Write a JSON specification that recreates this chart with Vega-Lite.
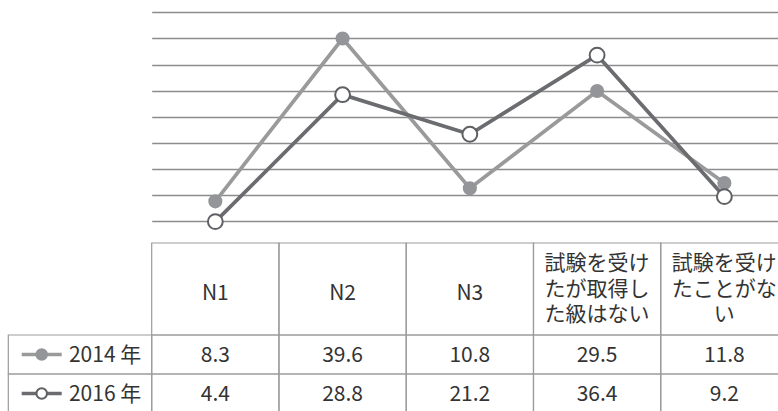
{
  "$schema": "https://vega.github.io/schema/vega-lite/v6.json",
  "width": 778,
  "height": 411,
  "padding": 0,
  "autosize": {"type": "none"},
  "background": "white",
  "config": {"view": {"stroke": null}, "font": "Noto Sans CJK JP", "text": {"font": "Noto Sans CJK JP"}},
  "datasets": {
    "vals": [
      {"cat": "N1", "year": "2014 年", "value": 8.3},
      {"cat": "N2", "year": "2014 年", "value": 39.6},
      {"cat": "N3", "year": "2014 年", "value": 10.8},
      {"cat": "試験を受け\nたが取得し\nた級はない", "year": "2014 年", "value": 29.5},
      {"cat": "試験を受け\nたことがな\nい", "year": "2014 年", "value": 11.8},
      {"cat": "N1", "year": "2016 年", "value": 4.4},
      {"cat": "N2", "year": "2016 年", "value": 28.8},
      {"cat": "N3", "year": "2016 年", "value": 21.2},
      {"cat": "試験を受け\nたが取得し\nた級はない", "year": "2016 年", "value": 36.4},
      {"cat": "試験を受け\nたことがな\nい", "year": "2016 年", "value": 9.2}
    ]
  },
  "data": {"name": "vals"},
  "resolve": {"scale": {"x": "independent", "y": "independent", "fill": "independent", "stroke": "independent"}},
  "layer": [
    {
      "transform": [{"filter": "datum.year === '2014 年'"}],
      "mark": {"type": "line", "color": "#9a9a9c", "strokeWidth": 3.7},
      "encoding": {
        "x": {"field": "cat", "type": "nominal", "axis": null,
              "scale": {"type": "band", "domain": ["N1", "N2", "N3", "試験を受け\nたが取得し\nた級はない", "試験を受け\nたことがな\nい"], "range": [151.7, 788], "paddingInner": 0, "paddingOuter": 0}},
        "y": {"field": "value", "type": "quantitative",
              "scale": {"type": "linear", "domain": [0, 47], "range": [244.5, 0], "nice": false, "zero": false},
              "axis": {"orient": "left", "values": [4.6, 9.6, 14.6, 19.6, 24.6, 29.6, 34.6, 39.6, 44.6], "grid": true, "gridColor": "#8c8c8c", "gridWidth": 1.4, "labels": false, "ticks": false, "domain": false, "title": null}}
      }
    },
    {
      "transform": [{"filter": "datum.year === '2014 年'"}],
      "mark": {"type": "circle", "color": "#939598", "size": 200, "opacity": 1},
      "encoding": {
        "x": {"field": "cat", "type": "nominal", "axis": null,
              "scale": {"type": "band", "domain": ["N1", "N2", "N3", "試験を受け\nたが取得し\nた級はない", "試験を受け\nたことがな\nい"], "range": [151.7, 788], "paddingInner": 0, "paddingOuter": 0}},
        "y": {"field": "value", "type": "quantitative", "axis": null,
              "scale": {"type": "linear", "domain": [0, 47], "range": [244.5, 0], "nice": false, "zero": false}}
      }
    },
    {
      "transform": [{"filter": "datum.year === '2016 年'"}],
      "mark": {"type": "line", "color": "#6b6c6f", "strokeWidth": 3.7},
      "encoding": {
        "x": {"field": "cat", "type": "nominal", "axis": null,
              "scale": {"type": "band", "domain": ["N1", "N2", "N3", "試験を受け\nたが取得し\nた級はない", "試験を受け\nたことがな\nい"], "range": [151.7, 788], "paddingInner": 0, "paddingOuter": 0}},
        "y": {"field": "value", "type": "quantitative", "axis": null,
              "scale": {"type": "linear", "domain": [0, 47], "range": [244.5, 0], "nice": false, "zero": false}}
      }
    },
    {
      "transform": [{"filter": "datum.year === '2016 年'"}],
      "mark": {"type": "circle", "fill": "#ffffff", "stroke": "#5f6063", "strokeWidth": 2, "size": 220, "opacity": 1},
      "encoding": {
        "x": {"field": "cat", "type": "nominal", "axis": null,
              "scale": {"type": "band", "domain": ["N1", "N2", "N3", "試験を受け\nたが取得し\nた級はない", "試験を受け\nたことがな\nい"], "range": [151.7, 788], "paddingInner": 0, "paddingOuter": 0}},
        "y": {"field": "value", "type": "quantitative", "axis": null,
              "scale": {"type": "linear", "domain": [0, 47], "range": [244.5, 0], "nice": false, "zero": false}}
      }
    },
    {
      "transform": [{"filter": "datum.year === '2014 年'"}],
      "mark": {"type": "rect", "fill": null, "fillOpacity": 0, "stroke": "#9b9b9b", "strokeWidth": 1.2},
      "encoding": {
        "x": {"field": "cat", "type": "nominal", "axis": null,
              "scale": {"type": "band", "domain": ["N1", "N2", "N3", "試験を受け\nたが取得し\nた級はない", "試験を受け\nたことがな\nい"], "range": [151.7, 788], "paddingInner": 0, "paddingOuter": 0}},
        "y": {"datum": "header", "type": "nominal", "axis": null,
              "scale": {"type": "band", "domain": ["header"], "range": [243, 335], "paddingInner": 0, "paddingOuter": 0}}
      }
    },
    {
      "transform": [{"filter": "datum.year === '2014 年'"}, {"filter": {"field": "cat", "oneOf": ["N1", "N2", "N3"]}}],
      "mark": {"type": "text", "fontSize": 21, "color": "#333333", "align": "center", "baseline": "middle"},
      "encoding": {
        "x": {"field": "cat", "type": "nominal", "axis": null,
              "scale": {"type": "band", "domain": ["N1", "N2", "N3", "試験を受け\nたが取得し\nた級はない", "試験を受け\nたことがな\nい"], "range": [151.7, 788], "paddingInner": 0, "paddingOuter": 0}},
        "y": {"datum": "header", "type": "nominal", "axis": null, "bandPosition": 0.55,
              "scale": {"type": "band", "domain": ["header"], "range": [243, 335], "paddingInner": 0, "paddingOuter": 0}},
        "text": {"field": "cat", "type": "nominal"}
      }
    },
    {
      "transform": [{"filter": "datum.year === '2014 年'"}, {"filter": {"not": {"field": "cat", "oneOf": ["N1", "N2", "N3"]}}}],
      "mark": {"type": "text", "fontSize": 21, "lineHeight": 25.5, "lineBreak": "\n", "color": "#333333", "align": "center", "baseline": "middle"},
      "encoding": {
        "x": {"field": "cat", "type": "nominal", "axis": null,
              "scale": {"type": "band", "domain": ["N1", "N2", "N3", "試験を受け\nたが取得し\nた級はない", "試験を受け\nたことがな\nい"], "range": [151.7, 788], "paddingInner": 0, "paddingOuter": 0}},
        "y": {"datum": "header", "type": "nominal", "axis": null, "bandPosition": 0.232,
              "scale": {"type": "band", "domain": ["header"], "range": [243, 335], "paddingInner": 0, "paddingOuter": 0}},
        "text": {"field": "cat", "type": "nominal"}
      }
    },
    {
      "mark": {"type": "rect", "fill": null, "fillOpacity": 0, "stroke": "#9b9b9b", "strokeWidth": 1.2},
      "encoding": {
        "x": {"field": "cat", "type": "nominal", "axis": null,
              "scale": {"type": "band", "domain": ["N1", "N2", "N3", "試験を受け\nたが取得し\nた級はない", "試験を受け\nたことがな\nい"], "range": [151.7, 788], "paddingInner": 0, "paddingOuter": 0}},
        "y": {"field": "year", "type": "nominal", "axis": null,
              "scale": {"type": "band", "domain": ["2014 年", "2016 年"], "range": [335, 413], "paddingInner": 0, "paddingOuter": 0}}
      }
    },
    {
      "mark": {"type": "text", "fontSize": 21, "color": "#333333", "align": "center", "baseline": "middle"},
      "encoding": {
        "x": {"field": "cat", "type": "nominal", "axis": null,
              "scale": {"type": "band", "domain": ["N1", "N2", "N3", "試験を受け\nたが取得し\nた級はない", "試験を受け\nたことがな\nい"], "range": [151.7, 788], "paddingInner": 0, "paddingOuter": 0}},
        "y": {"field": "year", "type": "nominal", "axis": null, "bandPosition": 0.53,
              "scale": {"type": "band", "domain": ["2014 年", "2016 年"], "range": [335, 413], "paddingInner": 0, "paddingOuter": 0}},
        "text": {"field": "value", "type": "quantitative", "format": ".1f"}
      }
    },
    {
      "transform": [{"filter": "datum.cat === 'N1'"}],
      "mark": {"type": "rect", "fill": null, "fillOpacity": 0, "stroke": "#9b9b9b", "strokeWidth": 1.2},
      "encoding": {
        "x": {"datum": "label", "type": "nominal", "axis": null,
              "scale": {"type": "band", "domain": ["label"], "range": [8.3, 151.7], "paddingInner": 0, "paddingOuter": 0}},
        "y": {"field": "year", "type": "nominal", "axis": null,
              "scale": {"type": "band", "domain": ["2014 年", "2016 年"], "range": [335, 413], "paddingInner": 0, "paddingOuter": 0}}
      }
    },
    {
      "transform": [{"filter": "datum.cat === 'N1'"}],
      "mark": {"type": "point", "shape": "stroke", "size": 1600, "strokeWidth": 3.5, "opacity": 1},
      "encoding": {
        "x": {"datum": "label", "type": "nominal", "axis": null, "bandPosition": 0.233,
              "scale": {"type": "band", "domain": ["label"], "range": [8.3, 151.7], "paddingInner": 0, "paddingOuter": 0}},
        "y": {"field": "year", "type": "nominal", "axis": null,
              "scale": {"type": "band", "domain": ["2014 年", "2016 年"], "range": [335, 413], "paddingInner": 0, "paddingOuter": 0}},
        "stroke": {"field": "year", "type": "nominal", "legend": null,
                   "scale": {"domain": ["2014 年", "2016 年"], "range": ["#9a9a9c", "#6b6c6f"]}}
      }
    },
    {
      "transform": [{"filter": "datum.cat === 'N1'"}],
      "mark": {"type": "point", "shape": "circle", "size": 110, "strokeWidth": 2, "opacity": 1, "filled": true},
      "encoding": {
        "x": {"datum": "label", "type": "nominal", "axis": null, "bandPosition": 0.233,
              "scale": {"type": "band", "domain": ["label"], "range": [8.3, 151.7], "paddingInner": 0, "paddingOuter": 0}},
        "y": {"field": "year", "type": "nominal", "axis": null,
              "scale": {"type": "band", "domain": ["2014 年", "2016 年"], "range": [335, 413], "paddingInner": 0, "paddingOuter": 0}},
        "fill": {"field": "year", "type": "nominal", "legend": null,
                 "scale": {"domain": ["2014 年", "2016 年"], "range": ["#939598", "#ffffff"]}},
        "stroke": {"field": "year", "type": "nominal", "legend": null,
                   "scale": {"domain": ["2014 年", "2016 年"], "range": ["#939598", "#5f6063"]}}
      }
    },
    {
      "transform": [{"filter": "datum.cat === 'N1'"}],
      "mark": {"type": "text", "fontSize": 21, "color": "#333333", "align": "left", "baseline": "middle"},
      "encoding": {
        "x": {"datum": "label", "type": "nominal", "axis": null, "bandPosition": 0.423,
              "scale": {"type": "band", "domain": ["label"], "range": [8.3, 151.7], "paddingInner": 0, "paddingOuter": 0}},
        "y": {"field": "year", "type": "nominal", "axis": null, "bandPosition": 0.53,
              "scale": {"type": "band", "domain": ["2014 年", "2016 年"], "range": [335, 413], "paddingInner": 0, "paddingOuter": 0}},
        "text": {"field": "year", "type": "nominal"}
      }
    }
  ]
}
